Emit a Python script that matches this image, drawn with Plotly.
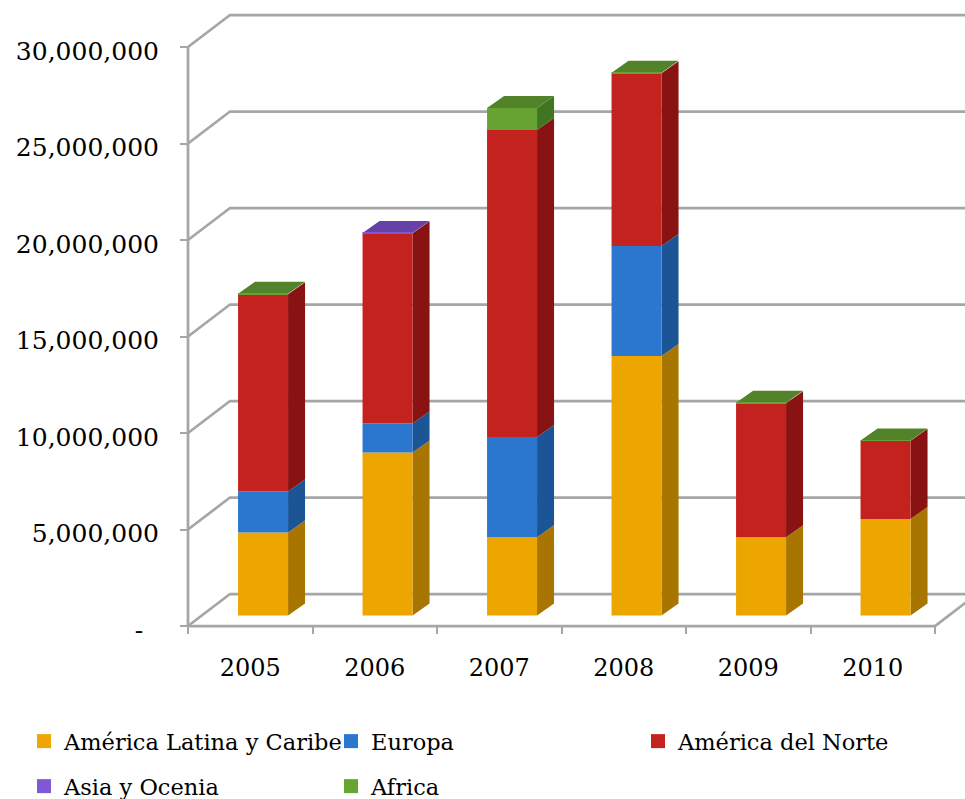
import plotly.graph_objects as go

years = ["2005", "2006", "2007", "2008", "2009", "2010"]
latam = [4300000, 8450000, 4050000, 13450000, 4050000, 5000000]
europa = [2120000, 1500000, 5200000, 5700000, 0, 0]
norte = [10230000, 9850000, 15900000, 8950000, 6950000, 4050000]
asia = [0, 20000, 0, 0, 0, 0]
africa = [20000, 0, 1140000, 20000, 20000, 20000]

series = [
    ("América Latina y Caribe", latam, "#EDA600", "#A87600", "#EDA600", "#EEA505"),
    ("Europa", europa, "#2B76CF", "#1C5596", "#2B76CF", "#2B77D0"),
    ("América del Norte", norte, "#C4221F", "#881312", "#C4221F", "#C4221F"),
    ("Asia y Ocenia", asia, "#7F58D6", "#5A3DA0", "#6541A8", "#7F58D6"),
    ("Africa", africa, "#67A333", "#42751F", "#52832A", "#67A533"),
]

grid_vals = [0, 5000000, 10000000, 15000000, 20000000, 25000000, 30000000]
grid_text = ["-\u00a0\u00a0", "5,000,000", "10,000,000", "15,000,000", "20,000,000", "25,000,000", "30,000,000"]

W, H = 965, 799
AXIS_X, AXIS_Y = 188, 626      # pixel position of the front axes
PAD = 6                        # room past the axes so thick lines are not clipped
PL = AXIS_X - PAD
plot_h = AXIS_Y + PAD
PX_PER_CAT = 124.5
PX_PER_UNIT = 19.3 / 1e6
x_range = [-0.5 - PAD / PX_PER_CAT, -0.5 + (W - AXIS_X) / PX_PER_CAT]
y_range = [-PAD / PX_PER_UNIT, AXIS_Y / PX_PER_UNIT]
label_drop = 4 / PX_PER_UNIT
y_label_range = [y_range[0] + label_drop, y_range[1] + label_drop]

wall_dx, wall_dy = 42 / PX_PER_CAT, 32 / PX_PER_UNIT
bar_dx, bar_dy = 17 / PX_PER_CAT, 12 / PX_PER_UNIT
lift = 10.5 / PX_PER_UNIT
bar_w = 50 / PX_PER_CAT
bar_off = -12.2 / PX_PER_CAT
GRID = "#A6A6A6"

fig = go.Figure()

# walls
gx, gy = [], []
for v in grid_vals:
    gx += [-0.5, -0.5 + wall_dx, x_range[1], None]
    gy += [v, v + wall_dy, v + wall_dy, None]
gx += [-0.5, -0.5, None, -0.5, 5.5, 5.5 + wall_dx]
gy += [0, grid_vals[-1], None, 0, 0, wall_dy]
fig.add_trace(go.Scatter(x=gx, y=gy, mode="lines", line=dict(color=GRID, width=2.75),
                         showlegend=False, hoverinfo="skip"))

# stack extents
cum = [0.0] * len(years)
stacks = []
for name, vals, front, side, top, swatch in series:
    b = [c + lift for c in cum]
    t = [bb + v for bb, v in zip(b, vals)]
    stacks.append((b, t))
    cum = [c + v for c, v in zip(cum, vals)]
totals = [c + lift for c in cum]

# side and top faces
for (name, vals, front, side, top, swatch), (b, t) in zip(series, stacks):
    sx, sy, tx, ty = [], [], [], []
    for i, v in enumerate(vals):
        if v <= 0:
            continue
        xl = i + bar_off
        xr = xl + bar_w
        sx += [xr, xr + bar_dx, xr + bar_dx, xr, xr, None]
        sy += [b[i], b[i] + bar_dy, t[i] + bar_dy, t[i], b[i], None]
        if abs(t[i] - totals[i]) < 1:
            tx += [xl, xr, xr + bar_dx, xl + bar_dx, xl, None]
            ty += [t[i], t[i], t[i] + bar_dy, t[i] + bar_dy, t[i], None]
    if sx:
        fig.add_trace(go.Scatter(x=sx, y=sy, mode="lines", fill="toself", fillcolor=side,
                                 line=dict(width=0, color=side), showlegend=False, hoverinfo="skip"))
    if tx:
        fig.add_trace(go.Scatter(x=tx, y=ty, mode="lines", fill="toself", fillcolor=top,
                                 line=dict(width=0, color=top), showlegend=False, hoverinfo="skip"))

# front faces
for (name, vals, front, side, top, swatch), (b, t) in zip(series, stacks):
    fig.add_trace(go.Bar(x=years, y=vals, base=b, name=name, xaxis="x2", width=bar_w, offset=bar_off,
                         marker=dict(color=front, line=dict(width=0)), showlegend=False))

# carrier for the value labels on the overlaid axis
fig.add_trace(go.Scatter(x=[None], y=[None], yaxis="y2", showlegend=False, hoverinfo="skip"))

# legend entries, each in its own legend box
legend_names = ["legend", "legend2", "legend3", "legend4", "legend5"]
legend_font = dict(family="DejaVu Serif", size=22.5, color="#000000")
legend_pos = [(24, 720), (331, 720), (638, 720), (24, 765), (331, 765)]
legends = {}
for idx, (name, vals, front, side, top, swatch) in enumerate(series):
    fig.add_trace(go.Scatter(x=[None], y=[None], mode="markers", name=name, legend=legend_names[idx],
                             marker=dict(symbol="square", size=14, color=swatch)))
    px, py = legend_pos[idx]
    legends[legend_names[idx]] = dict(font=legend_font, x=(px - PL) / (W - PL), y=(plot_h - py) / plot_h,
                                      xanchor="left", yanchor="top", bgcolor="rgba(0,0,0,0)")

x_pos = PAD / (W - PL)
y_pos = PAD / plot_h

fig.update_layout(
    width=W, height=H, plot_bgcolor="white", paper_bgcolor="white",
    margin=dict(l=PL, r=0, t=0, b=H - plot_h, pad=0, autoexpand=False),
    barmode="overlay", hovermode="closest",
    xaxis=dict(range=x_range, visible=False),
    xaxis2=dict(type="category", overlaying="x", side="bottom", anchor="free", position=y_pos, range=x_range,
                categoryorder="array", categoryarray=years,
                tickson="boundaries", ticks="outside", ticklen=7, tickwidth=2, tickcolor=GRID,
                showgrid=False, showline=False, zeroline=False, ticklabelstandoff=25,
                tickfont=dict(family="DejaVu Serif", size=24, color="#000000")),
    yaxis=dict(range=y_range, anchor="free", position=x_pos, tickmode="array", tickvals=grid_vals,
               showticklabels=False, ticks="outside", ticklen=8, tickwidth=2, tickcolor=GRID,
               showgrid=False, showline=False, zeroline=False),
    yaxis2=dict(range=y_label_range, overlaying="y", side="left", anchor="free", position=x_pos,
                tickmode="array", tickvals=grid_vals, ticktext=grid_text, ticks="",
                showgrid=False, showline=False, zeroline=False, ticklabelstandoff=29,
                tickfont=dict(family="DejaVu Serif", size=25, color="#000000")),
    **legends,
)

fig.write_html("out.html", config={"displayModeBar": False}, post_script="document.body.style.margin='0';")
